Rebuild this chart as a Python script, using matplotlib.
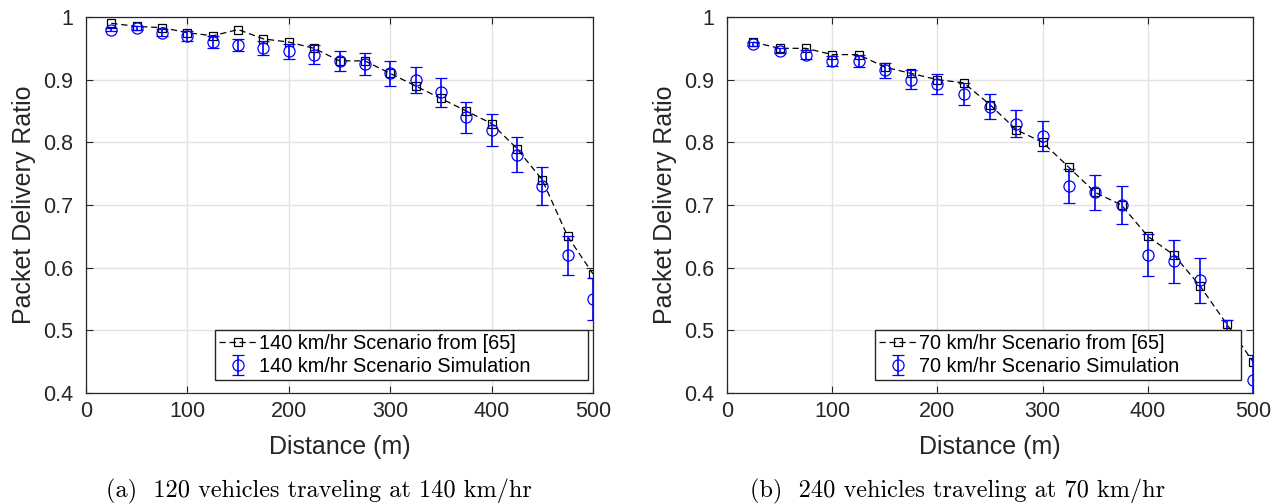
import matplotlib
matplotlib.use("Agg")
import matplotlib.pyplot as plt

# distances (m)
dist = [25, 50, 75, 100, 125, 150, 175, 200, 225, 250,
        275, 300, 325, 350, 375, 400, 425, 450, 475, 500]

# (a) 140 km/hr
ref_140 = [0.990, 0.985, 0.983, 0.975, 0.970, 0.980, 0.965, 0.960, 0.950, 0.930,
           0.930, 0.910, 0.890, 0.870, 0.850, 0.830, 0.790, 0.740, 0.650, 0.590]
sim_140 = [0.980, 0.982, 0.975, 0.970, 0.960, 0.955, 0.950, 0.945, 0.940, 0.930,
           0.925, 0.910, 0.900, 0.880, 0.840, 0.820, 0.780, 0.730, 0.620, 0.550]
err_140 = [0.003, 0.003, 0.006, 0.008, 0.009, 0.010, 0.011, 0.012, 0.015, 0.016,
           0.018, 0.020, 0.021, 0.023, 0.025, 0.026, 0.028, 0.030, 0.031, 0.033]

# (b) 70 km/hr
ref_70 = [0.960, 0.950, 0.950, 0.940, 0.940, 0.920, 0.910, 0.900, 0.895, 0.860,
          0.820, 0.800, 0.760, 0.720, 0.700, 0.650, 0.620, 0.570, 0.510, 0.450]
sim_70 = [0.957, 0.946, 0.940, 0.930, 0.930, 0.915, 0.900, 0.893, 0.877, 0.857,
          0.830, 0.810, 0.730, 0.720, 0.700, 0.620, 0.610, 0.580, 0.480, 0.420]
err_70 = [0.003, 0.004, 0.007, 0.008, 0.010, 0.012, 0.015, 0.016, 0.018, 0.020,
          0.022, 0.024, 0.027, 0.028, 0.030, 0.033, 0.034, 0.036, 0.037, 0.040]

W, H = 1273, 504

panels = [
    (ref_140, sim_140, err_140, "140 km/hr", "(a)  120 vehicles traveling at 140 km/hr",
     (86, 111, 507, 376), (215, 124, 373, 57), 319),
    (ref_70, sim_70, err_70, "70 km/hr", "(b)  240 vehicles traveling at 70 km/hr",
     (727, 111, 526, 376), (875, 124, 366, 57), 958),
]

plt.rcParams['font.family'] = ['Liberation Sans', 'DejaVu Sans']

fig = plt.figure(figsize=(W / 100, H / 100), dpi=100)

for ref, sim, err, speed, caption, rect, leg, capx in panels:
    ax = fig.add_axes([rect[0] / W, rect[1] / H, rect[2] / W, rect[3] / H])
    ax.plot(dist, ref, '--', color='black', lw=0.9, marker='s', ms=5.5,
            mfc='none', mew=0.9, dashes=(5, 3),
            label=f"{speed} Scenario from [65]")
    ax.errorbar(dist, sim, yerr=err, fmt='o', color='#0000ff', ms=8, mfc='none',
                mew=0.9, elinewidth=1.2, capsize=4, capthick=1.2,
                label=f"{speed} Scenario Simulation")
    ax.set_xlim(0, 500)
    ax.set_ylim(0.4, 1.0)
    ax.set_xticks([0, 100, 200, 300, 400, 500])
    ax.set_yticks([0.4, 0.5, 0.6, 0.7, 0.8, 0.9, 1.0])
    ax.set_yticklabels(["0.4", "0.5", "0.6", "0.7", "0.8", "0.9", "1"])
    ax.grid(True, color='#e3e3e3', lw=1.0)
    ax.set_axisbelow(True)
    ax.tick_params(direction='in', top=True, right=True, labelsize=15.5,
                   length=5, width=0.8, colors='#262626')
    ax.tick_params(axis='y', pad=9)
    ax.tick_params(axis='x', pad=6)
    for sp in ax.spines.values():
        sp.set_color('#262626')
        sp.set_linewidth(0.9)
    ax.set_xlabel("Distance (m)", fontsize=18, color='#262626', labelpad=9)
    ax.set_ylabel("Packet Delivery Ratio", fontsize=18, color='#262626', labelpad=5)
    lx, ly, lw, lh = leg
    ax.legend(loc='lower left',
              bbox_to_anchor=(lx / W, ly / H, lw / W, lh / H),
              bbox_transform=fig.transFigure, mode='expand',
              fontsize=14.3, frameon=True, fancybox=False, framealpha=1,
              edgecolor='#262626', borderpad=0.2, handlelength=1.9,
              handletextpad=0.1, labelspacing=0.2, borderaxespad=0)
    fig.text(capx / W, 1 - 497 / H, caption, fontsize=17.5, family='cmr10',
             ha='center', va='baseline')

fig.savefig("out.png", dpi=100)
